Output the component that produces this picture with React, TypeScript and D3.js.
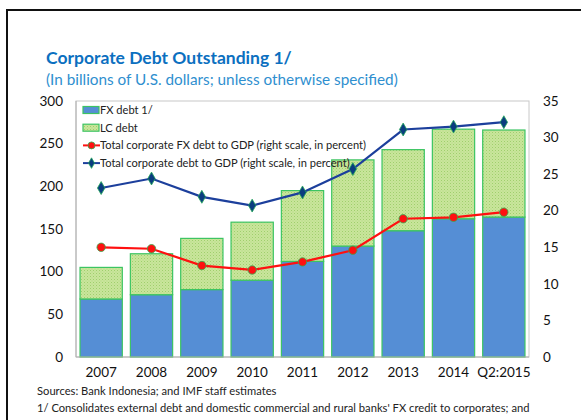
import React, { useRef, useEffect } from "react"
import * as d3 from "d3"

const categories = ["2007", "2008", "2009", "2010", "2011", "2012", "2013", "2014", "Q2:2015"]
const fxDebt = [68, 73, 79, 90, 112, 130, 148, 162, 164]
const lcDebt = [37, 48, 60, 68, 83, 101, 95, 105, 102]
const fxDebtGdp = [15.0, 14.8, 12.5, 11.9, 13.0, 14.6, 18.9, 19.1, 19.8]
const totalDebtGdp = [23.1, 24.4, 21.9, 20.7, 22.5, 25.7, 31.1, 31.5, 32.1]
const leftTicks = [0, 50, 100, 150, 200, 250, 300]
const rightTicks = [0, 5, 10, 15, 20, 25, 30, 35]

const FONT = "Lato, 'Open Sans', sans-serif"

const App: React.FC = () => {
  const svgRef = useRef<SVGSVGElement>(null)

  const W = 581
  const H = 420
  const plot = { left: 76, right: 529, top: 101, bottom: 357 }

  useEffect(() => {
    if (!svgRef.current) return
    const svg = d3.select(svgRef.current)
    svg.selectAll("*").remove()

    const defs = svg.append("defs")
    const pat = defs.append("pattern")
      .attr("id", "lcPat")
      .attr("patternUnits", "userSpaceOnUse")
      .attr("width", 3)
      .attr("height", 3)
    pat.append("rect").attr("width", 3).attr("height", 3).attr("fill", "#c9e59c")
    pat.append("rect").attr("width", 1).attr("height", 1).attr("fill", "#9fcf6c")
    pat.append("rect").attr("x", 1.5).attr("y", 1.5).attr("width", 1).attr("height", 1).attr("fill", "#b2d981")

    // outer frame
    svg.append("rect")
      .attr("x", 7).attr("y", 10)
      .attr("width", 620).attr("height", 500)
      .attr("fill", "none")
      .attr("stroke", "#111")
      .attr("stroke-width", 2)

    svg.append("text")
      .attr("x", 46).attr("y", 64)
      .attr("font-family", FONT)
      .attr("font-weight", "bold")
      .attr("font-size", 17.5)
      .attr("fill", "#0b6fc0")
      .text("Corporate Debt Outstanding 1/")

    svg.append("text")
      .attr("x", 46).attr("y", 85)
      .attr("font-family", FONT)
      .attr("font-size", 15.3)
      .attr("fill", "#2f8fcf")
      .text("(In billions of U.S. dollars; unless otherwise specified)")

    const x = d3.scaleBand()
      .domain(categories)
      .range([plot.left, plot.right])
      .paddingInner(0.16)
      .paddingOuter(0.08)

    const yL = d3.scaleLinear().domain([0, 300]).range([plot.bottom, plot.top])
    const yR = d3.scaleLinear().domain([0, 35]).range([plot.bottom, plot.top])

    // plot area frame
    svg.append("rect")
      .attr("x", plot.left).attr("y", plot.top)
      .attr("width", plot.right - plot.left)
      .attr("height", plot.bottom - plot.top)
      .attr("fill", "none")
      .attr("stroke", "#c8c8c8")
      .attr("stroke-width", 1)

    const bars = svg.append("g")
    categories.forEach((c, i) => {
      bars.append("rect")
        .attr("x", x(c))
        .attr("y", yL(fxDebt[i]))
        .attr("width", x.bandwidth())
        .attr("height", yL(0) - yL(fxDebt[i]))
        .attr("fill", "#558ed5")
        .attr("stroke", "#3cc462")
        .attr("stroke-width", 1.2)
      bars.append("rect")
        .attr("x", x(c))
        .attr("y", yL(fxDebt[i] + lcDebt[i]))
        .attr("width", x.bandwidth())
        .attr("height", yL(fxDebt[i]) - yL(fxDebt[i] + lcDebt[i]))
        .attr("fill", "url(#lcPat)")
        .attr("stroke", "#3cc462")
        .attr("stroke-width", 1.2)
    })

    // axes lines
    svg.append("line")
      .attr("x1", plot.left).attr("x2", plot.left)
      .attr("y1", plot.top).attr("y2", plot.bottom)
      .attr("stroke", "#b0b0b0")
    svg.append("line")
      .attr("x1", plot.left).attr("x2", plot.right)
      .attr("y1", plot.bottom).attr("y2", plot.bottom)
      .attr("stroke", "#b0b0b0")

    const cx = (c: string) => (x(c) as number) + x.bandwidth() / 2

    const line = (vals: number[]) =>
      d3.line<number>().x((d, i) => cx(categories[i])).y(d => yR(d))(vals)

    svg.append("path")
      .attr("d", line(totalDebtGdp))
      .attr("fill", "none")
      .attr("stroke", "#1c3f9c")
      .attr("stroke-width", 2.2)
    svg.append("path")
      .attr("d", line(fxDebtGdp))
      .attr("fill", "none")
      .attr("stroke", "#ff1010")
      .attr("stroke-width", 2.2)

    const diamond = d3.symbol().type(d3.symbolDiamond).size(48)
    svg.append("g").selectAll("path")
      .data(totalDebtGdp)
      .enter().append("path")
      .attr("d", diamond)
      .attr("transform", (d, i) => `translate(${cx(categories[i])},${yR(d)})`)
      .attr("fill", "#0b3d7f")
      .attr("stroke", "#22a85a")
      .attr("stroke-width", 0.8)

    svg.append("g").selectAll("circle")
      .data(fxDebtGdp)
      .enter().append("circle")
      .attr("cx", (d, i) => cx(categories[i]))
      .attr("cy", d => yR(d))
      .attr("r", 4.2)
      .attr("fill", "#ff1010")
      .attr("stroke", "#2eb050")
      .attr("stroke-width", 0.8)

    // left tick labels
    svg.append("g").selectAll("text")
      .data(leftTicks)
      .enter().append("text")
      .attr("x", 63)
      .attr("y", d => yL(d))
      .attr("dy", "0.35em")
      .attr("text-anchor", "end")
      .attr("font-family", FONT)
      .attr("font-size", 13.5)
      .attr("fill", "#111")
      .text(d => d)

    svg.append("g").selectAll("text")
      .data(rightTicks)
      .enter().append("text")
      .attr("x", 543)
      .attr("y", d => yR(d))
      .attr("dy", "0.35em")
      .attr("font-family", FONT)
      .attr("font-size", 13.5)
      .attr("fill", "#111")
      .text(d => d)

    svg.append("g").selectAll("text")
      .data(categories)
      .enter().append("text")
      .attr("x", d => cx(d))
      .attr("y", 372)
      .attr("dy", "0.35em")
      .attr("text-anchor", "middle")
      .attr("font-family", FONT)
      .attr("font-size", 13.5)
      .attr("fill", "#111")
      .text(d => d)

    // legend
    const lg = svg.append("g").attr("font-family", FONT).attr("font-size", 11.1).attr("fill", "#222")
    const rows = [
      { label: "FX debt 1/", kind: "fx" },
      { label: "LC debt", kind: "lc" },
      { label: "Total corporate FX debt to GDP (right scale, in percent)", kind: "red" },
      { label: "Total corporate debt to GDP (right scale, in percent)", kind: "blue" },
    ]
    rows.forEach((r, i) => {
      const yy = 110 + i * 17.7
      if (r.kind === "fx" || r.kind === "lc") {
        lg.append("rect")
          .attr("x", 83).attr("y", yy - 3.5)
          .attr("width", 16).attr("height", 7)
          .attr("fill", r.kind === "fx" ? "#558ed5" : "url(#lcPat)")
          .attr("stroke", "#3cc462")
          .attr("stroke-width", 1.2)
      } else {
        const col = r.kind === "red" ? "#ff1010" : "#1c3f9c"
        lg.append("line")
          .attr("x1", 83).attr("x2", 100)
          .attr("y1", yy).attr("y2", yy)
          .attr("stroke", col).attr("stroke-width", 2)
        if (r.kind === "red") {
          lg.append("circle").attr("cx", 91.5).attr("cy", yy).attr("r", 3.5)
            .attr("fill", col).attr("stroke", "#2eb050").attr("stroke-width", 0.8)
        } else {
          lg.append("path").attr("d", d3.symbol().type(d3.symbolDiamond).size(32)())
            .attr("transform", `translate(91.5,${yy})`)
            .attr("fill", "#0b3d7f").attr("stroke", "#22a85a").attr("stroke-width", 0.8)
        }
      }
      lg.append("text")
        .attr("x", 100).attr("y", yy).attr("dy", "0.35em")
        .text(r.label)
    })

    // notes
    const notes = svg.append("g").attr("font-family", FONT).attr("font-size", 11.2).attr("fill", "#222")
    notes.append("text").attr("x", 37).attr("y", 395).text("Sources: Bank Indonesia; and IMF staff estimates")
    notes.append("text").attr("x", 37).attr("y", 412)
      .text("1/ Consolidates external debt and domestic commercial and rural banks' FX credit to corporates; and")
  }, [])

  return (
    <svg
      ref={svgRef}
      width={W}
      height={H}
      style={{ position: "absolute", left: 0, top: 0, background: "#fff" }}
    />
  )
}

export default App
